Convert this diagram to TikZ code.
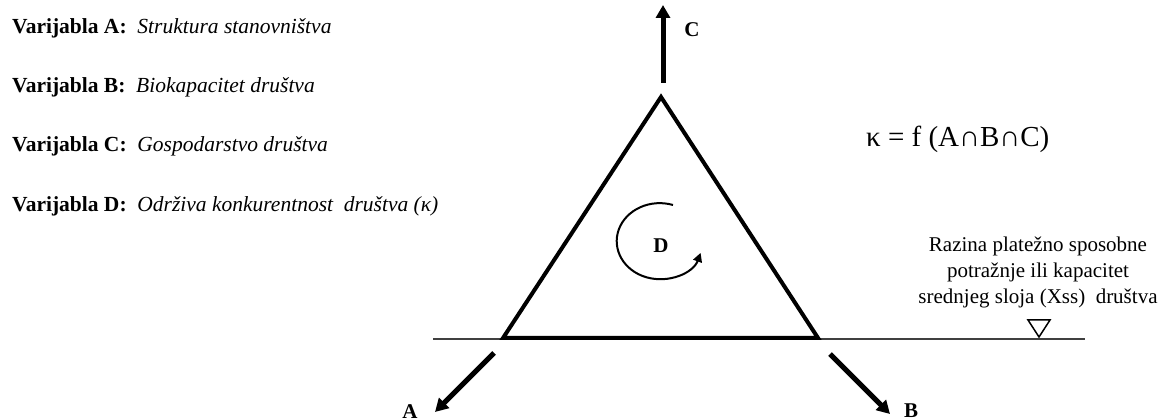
\documentclass[tikz,border=0pt]{standalone}
\usepackage{fontspec}
\setmainfont{Liberation Serif}
\usetikzlibrary{arrows.meta}
\begin{document}
\begin{tikzpicture}[x=1pt,y=-1pt,
  vartext/.style={anchor=base west, inner sep=0pt, font=\fontsize{21.5}{25}\selectfont},
  cornerlbl/.style={inner sep=0pt, font=\fontsize{21}{25}\selectfont\bfseries},
  thickarrow/.style={line width=5pt, -{Triangle[length=13pt,width=14pt]}}]
\useasboundingbox (0,0) rectangle (1159,419);
% variables
\node[vartext] (varA) at (12,34) {\textbf{Varijabla A:}\ \ \textit{Struktura stanovništva}};
\node[vartext] (varB) at (12,93) {\textbf{Varijabla B:}\ \ \textit{Biokapacitet društva}};
\node[vartext] (varC) at (12,152) {\textbf{Varijabla C:}\ \ \textit{Gospodarstvo društva}};
\node[vartext] (varD) at (12,212) {\textbf{Varijabla D:}\ \ \textit{Održiva konkurentnost\ \ društva (κ)}};
% level line
\coordinate (levelL) at (433,339);
\coordinate (levelR) at (1085,339);
\draw[line width=1.2pt, black!75] (levelL) -- (levelR);
\draw[line width=1.5pt, line join=miter] (1028,320) -- (1050,320) -- (1039,337) -- cycle;
\node[align=center, anchor=north, inner sep=0pt, font=\fontsize{21}{26}\selectfont] (level) at (1038,237)
  {Razina platežno sposobne\\potražnje ili kapacitet\\srednjeg sloja (Xss)\ \ društva};
% triangle
\coordinate (top) at (661,97);
\coordinate (left) at (503,338);
\coordinate (right) at (818,338);
\draw[line width=4pt, line join=miter] (left) -- (top) -- (right) -- cycle;
% cycle D
\draw[line width=2pt, -{Triangle[length=9pt,width=9pt]}] (673,205)
  arc[start angle=-72, end angle=-342, x radius=43, y radius=38];
\node[cornerlbl] (lblD) at (661,246) {D};
% outward arrows
\coordinate (cFrom) at (663,83);
\coordinate (cTo) at (663,5);
\coordinate (aFrom) at (494,353);
\coordinate (aTo) at (435,412);
\coordinate (bFrom) at (830,354);
\coordinate (bTo) at (890,414);
\draw[thickarrow] (cFrom) -- (cTo);
\draw[thickarrow] (aFrom) -- (aTo);
\draw[thickarrow] (bFrom) -- (bTo);
\node[cornerlbl] (lblC) at (692,30) {C};
\node[cornerlbl] (lblA) at (410,412) {A};
\node[cornerlbl] (lblB) at (911,411) {B};
% formula
\node[anchor=base west, inner sep=0pt, font=\fontsize{29}{34}\selectfont] (formula) at (866,147) {κ = f (A∩B∩C)};
\end{tikzpicture}
\end{document}
